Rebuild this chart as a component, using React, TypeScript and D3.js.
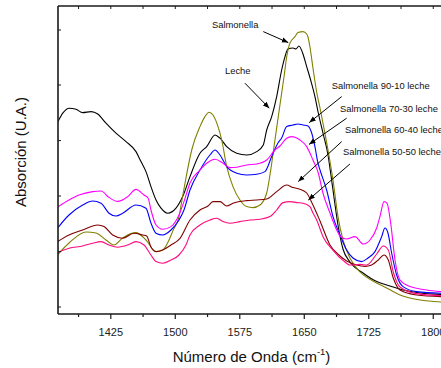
import React, { useEffect, useRef } from 'react';
import * as d3 from 'd3';

type Pt = [number, number];

// [wavenumber cm-1, absorbance a.u.]
const leche: Pt[] = [
  [1363.6, 0.962], [1369.1, 1.004], [1376.7, 1.029], [1384.5, 1.024], [1392.3, 1.007], [1402.0, 1.012],
  [1409.8, 1.0], [1419.4, 0.954], [1431.0, 0.904], [1442.7, 0.862], [1454.3, 0.812], [1460.1, 0.762],
  [1465.9, 0.712], [1471.7, 0.637], [1477.6, 0.57], [1483.4, 0.529], [1491.2, 0.504], [1500.8, 0.529],
  [1508.6, 0.587], [1517.1, 0.687], [1528.7, 0.804], [1536.5, 0.837], [1546.2, 0.895], [1552.0, 0.879],
  [1559.8, 0.837], [1571.4, 0.804], [1583.0, 0.795], [1594.7, 0.812], [1602.3, 0.845], [1606.3, 0.92],
  [1612.1, 0.987], [1617.9, 1.087], [1623.7, 1.22], [1627.6, 1.287], [1631.0, 1.325], [1636.9, 1.33],
  [1640.3, 1.325], [1643.8, 1.34], [1648.1, 1.305], [1652.8, 1.237], [1657.4, 1.17], [1662.4, 1.087],
  [1666.3, 1.005], [1671.7, 0.905], [1677.6, 0.795], [1681.0, 0.695], [1684.5, 0.585], [1689.2, 0.445],
  [1695.0, 0.325], [1703.1, 0.26], [1718.3, 0.205], [1734.2, 0.162], [1749.7, 0.14], [1764.8, 0.12],
  [1784.5, 0.105], [1809.0, 0.098],
];

const salmonella: Pt[] = [
  [1361.3, 0.287], [1376.4, 0.355], [1396.2, 0.41], [1407.8, 0.405], [1419.4, 0.37], [1428.7, 0.345],
  [1438.8, 0.38], [1454.3, 0.407], [1465.9, 0.37], [1477.6, 0.312], [1485.3, 0.32], [1492.7, 0.37],
  [1497.3, 0.417], [1504.3, 0.487], [1507.8, 0.57], [1512.4, 0.68], [1519.1, 0.82], [1528.7, 0.937],
  [1534.5, 0.987], [1539.2, 1.009], [1543.8, 0.995], [1549.7, 0.937], [1554.0, 0.87], [1559.8, 0.737],
  [1567.1, 0.637], [1575.2, 0.57], [1583.0, 0.537], [1590.3, 0.532], [1598.5, 0.545], [1606.3, 0.605],
  [1610.1, 0.695], [1615.9, 0.87], [1621.7, 1.045], [1626.4, 1.185], [1629.9, 1.295], [1633.4, 1.355],
  [1639.2, 1.387], [1642.7, 1.407], [1648.5, 1.412], [1652.8, 1.4], [1654.3, 1.385], [1656.6, 1.335],
  [1660.1, 1.23], [1664.4, 1.11], [1668.3, 1.03], [1671.7, 0.955], [1677.6, 0.82], [1683.4, 0.67],
  [1689.2, 0.487], [1695.0, 0.37], [1703.1, 0.28], [1714.8, 0.21], [1729.9, 0.165], [1745.8, 0.13],
  [1761.3, 0.095], [1784.5, 0.07], [1809.0, 0.06],
];

const mix90: Pt[] = [
  [1361.3, 0.42], [1376.4, 0.495], [1392.3, 0.545], [1404.0, 0.565], [1413.6, 0.554], [1422.9, 0.504],
  [1431.0, 0.49], [1438.8, 0.504], [1454.3, 0.545], [1465.9, 0.529], [1471.7, 0.455], [1477.6, 0.404],
  [1485.3, 0.395], [1495.0, 0.42], [1504.3, 0.47], [1510.1, 0.52], [1517.1, 0.62], [1528.7, 0.72],
  [1540.3, 0.795], [1546.2, 0.82], [1552.0, 0.795], [1559.8, 0.737], [1571.4, 0.704], [1583.0, 0.695],
  [1594.7, 0.699], [1604.3, 0.712], [1612.1, 0.787], [1619.4, 0.855], [1623.7, 0.88], [1629.5, 0.937],
  [1636.9, 0.945], [1642.7, 0.95], [1648.5, 0.945], [1654.3, 0.94], [1658.6, 0.905], [1662.4, 0.837],
  [1665.9, 0.755], [1668.3, 0.72], [1676.0, 0.62], [1683.4, 0.487], [1691.5, 0.395], [1699.3, 0.32],
  [1706.6, 0.28], [1716.7, 0.262], [1724.1, 0.28], [1732.2, 0.312], [1740.0, 0.387], [1743.8, 0.43],
  [1747.3, 0.405], [1751.6, 0.305], [1757.4, 0.195], [1764.8, 0.137], [1780.7, 0.112], [1809.0, 0.104],
];

const mix70: Pt[] = [
  [1361.3, 0.529], [1376.4, 0.57], [1388.0, 0.595], [1404.0, 0.612], [1413.6, 0.615], [1422.9, 0.583],
  [1433.0, 0.563], [1444.7, 0.587], [1454.3, 0.623], [1463.6, 0.595], [1468.3, 0.58], [1471.7, 0.52],
  [1477.6, 0.445], [1485.3, 0.424], [1495.0, 0.437], [1504.3, 0.495], [1510.1, 0.562], [1517.1, 0.655],
  [1528.7, 0.72], [1536.5, 0.754], [1546.2, 0.774], [1555.5, 0.754], [1563.6, 0.732], [1571.4, 0.734],
  [1583.0, 0.745], [1594.7, 0.75], [1606.3, 0.77], [1615.9, 0.82], [1621.7, 0.84], [1629.5, 0.879],
  [1635.3, 0.887], [1645.0, 0.87], [1652.8, 0.837], [1660.1, 0.77], [1666.3, 0.705], [1671.7, 0.605],
  [1679.9, 0.505], [1687.7, 0.42], [1691.5, 0.39], [1699.3, 0.375], [1709.0, 0.387], [1718.6, 0.35],
  [1726.4, 0.37], [1734.2, 0.43], [1738.0, 0.487], [1742.7, 0.562], [1746.2, 0.554], [1750.5, 0.454],
  [1755.5, 0.27], [1761.3, 0.17], [1772.9, 0.137], [1792.3, 0.12], [1809.0, 0.112],
];

const mix60: Pt[] = [
  [1361.3, 0.357], [1376.4, 0.395], [1392.3, 0.42], [1409.8, 0.445], [1417.1, 0.437], [1427.2, 0.395],
  [1438.8, 0.379], [1452.0, 0.404], [1462.1, 0.395], [1466.7, 0.39], [1471.7, 0.335], [1477.6, 0.312],
  [1485.3, 0.32], [1495.0, 0.345], [1505.5, 0.378], [1517.1, 0.47], [1528.7, 0.52], [1538.0, 0.54],
  [1543.8, 0.562], [1552.0, 0.562], [1559.8, 0.54], [1567.1, 0.554], [1583.0, 0.567], [1594.7, 0.57],
  [1606.3, 0.575], [1617.9, 0.612], [1629.5, 0.645], [1636.9, 0.632], [1645.0, 0.624], [1652.8, 0.605],
  [1660.1, 0.545], [1668.3, 0.465], [1679.9, 0.345], [1691.5, 0.29], [1699.3, 0.265], [1710.9, 0.245],
  [1720.6, 0.238], [1728.4, 0.245], [1736.0, 0.27], [1742.7, 0.295], [1747.7, 0.27], [1753.5, 0.18],
  [1761.3, 0.12], [1780.7, 0.095], [1809.0, 0.087],
];

const mix50: Pt[] = [
  [1361.3, 0.304], [1376.4, 0.329], [1392.3, 0.34], [1404.0, 0.354], [1413.6, 0.362], [1422.9, 0.345],
  [1433.0, 0.334], [1444.7, 0.345], [1454.3, 0.362], [1463.6, 0.345], [1471.7, 0.295], [1477.6, 0.262],
  [1485.3, 0.254], [1495.0, 0.27], [1504.3, 0.295], [1512.4, 0.345], [1517.1, 0.395], [1528.7, 0.445],
  [1540.3, 0.47], [1548.1, 0.479], [1555.5, 0.462], [1563.6, 0.454], [1575.2, 0.462], [1586.9, 0.47],
  [1598.5, 0.474], [1610.1, 0.487], [1617.9, 0.52], [1625.2, 0.557], [1633.4, 0.562], [1641.2, 0.557],
  [1648.5, 0.554], [1656.6, 0.537], [1660.1, 0.505], [1664.4, 0.47], [1672.1, 0.384], [1683.7, 0.317],
  [1695.3, 0.267], [1703.1, 0.245], [1714.8, 0.248], [1722.6, 0.245], [1734.2, 0.3], [1741.9, 0.34],
  [1747.7, 0.32], [1753.5, 0.21], [1761.3, 0.135], [1780.7, 0.102], [1809.0, 0.092],
];

const X_MAJOR = [1425, 1500, 1575, 1650, 1725, 1800];
const X_MINOR = [1387.5, 1462.5, 1537.5, 1612.5, 1687.5, 1762.5];
const Y_TICKS = [0.035, 0.312, 0.59, 0.867, 1.145, 1.42];

const SERIES_DATA = [leche, salmonella, mix90, mix70, mix60, mix50];
const SERIES_COLORS = ['#000000', '#808000', '#0000ff', '#ff00ff', '#800000', '#ff0a7f'];

// annotations: text baseline start, arrow tail, arrow head (data coords)
const LABEL_TEXT = [
  'Salmonella', 'Leche', 'Salmonella 90-10 leche', 'Salmonella 70-30 leche',
  'Salmonella 60-40 leche', 'Salmonella 50-50 leche',
];
const LABEL_AT: Pt[] = [
  [1542.7, 1.428], [1557.8, 1.198], [1681.9, 1.125], [1691.5, 1.008], [1697.3, 0.903], [1695.0, 0.793],
];
const ARROW_FROM: Pt[] = [
  [1602.3, 1.412], [1581.0, 1.154], [1693.5, 1.087], [1699.3, 0.979], [1693.5, 0.862], [1703.1, 0.75],
];
const ARROW_TO: Pt[] = [
  [1631.4, 1.357], [1609.3, 1.029], [1655.8, 0.957], [1655.5, 0.848], [1643.0, 0.662], [1654.7, 0.57],
];

const W = 441;
const H = 368;
const M = { left: 58, top: 6, right: 0, bottom: 54 };
const FONT = '"Liberation Sans", Arial, sans-serif';

export default function App() {
  const ref = useRef<SVGSVGElement>(null);

  useEffect(() => {
    if (!ref.current) return;
    const svg = d3.select(ref.current);
    svg.selectAll('*').remove();

    const x = d3.scaleLinear().domain([1363.6, 1809]).range([M.left, W - M.right]);
    const y = d3.scaleLinear().domain([0, 1.54]).range([H - M.bottom, M.top]);
    const bottom = H - M.bottom;

    const defs = svg.append('defs');
    defs.append('clipPath').attr('id', 'plot-clip')
      .append('rect')
      .attr('x', M.left).attr('y', M.top)
      .attr('width', W - M.left - M.right).attr('height', bottom - M.top);
    defs.append('marker')
      .attr('id', 'arrow-head')
      .attr('viewBox', '0 0 10 10')
      .attr('refX', 10).attr('refY', 5)
      .attr('markerWidth', 6.5).attr('markerHeight', 6.5)
      .attr('markerUnits', 'userSpaceOnUse')
      .attr('orient', 'auto')
      .append('path').attr('d', 'M0,1L10,5L0,9Z').attr('fill', '#000');

    // spectra
    const line = d3.line<Pt>().x((d) => x(d[0])).y((d) => y(d[1])).curve(d3.curveMonotoneX);
    svg.append('g').attr('clip-path', 'url(#plot-clip)')
      .selectAll('path')
      .data(SERIES_DATA)
      .join('path')
      .attr('d', (d) => line(d))
      .attr('fill', 'none')
      .attr('stroke', (_, i) => SERIES_COLORS[i])
      .attr('stroke-width', 1.1)
      .attr('stroke-linejoin', 'round');

    // frame
    const axis = svg.append('g').attr('stroke', '#1a1a1a').attr('fill', 'none');
    axis.append('line').attr('x1', M.left).attr('x2', W).attr('y1', bottom).attr('y2', bottom).attr('stroke-width', 1.6);
    axis.append('line').attr('x1', M.left).attr('x2', W).attr('y1', M.top).attr('y2', M.top).attr('stroke-width', 1.6);
    axis.append('line').attr('x1', M.left).attr('x2', M.left).attr('y1', M.top).attr('y2', bottom).attr('stroke-width', 1.6);

    // x ticks (outside bottom, inside top)
    axis.selectAll('.xmaj').data(X_MAJOR).join('line')
      .attr('x1', (d) => x(d)).attr('x2', (d) => x(d))
      .attr('y1', bottom).attr('y2', bottom + 5).attr('stroke-width', 1.2);
    axis.selectAll('.xmin').data(X_MINOR).join('line')
      .attr('x1', (d) => x(d)).attr('x2', (d) => x(d))
      .attr('y1', bottom).attr('y2', bottom + 3).attr('stroke-width', 1.2);
    axis.selectAll('.xtop').data([...X_MAJOR, ...X_MINOR]).join('line')
      .attr('x1', (d) => x(d)).attr('x2', (d) => x(d))
      .attr('y1', M.top).attr('y2', M.top + 3).attr('stroke-width', 1);
    axis.selectAll('.yt').data(Y_TICKS).join('line')
      .attr('x1', M.left).attr('x2', M.left + 3)
      .attr('y1', (d) => y(d)).attr('y2', (d) => y(d)).attr('stroke-width', 1);

    svg.append('g')
      .selectAll('text')
      .data(X_MAJOR)
      .join('text')
      .attr('x', (d) => x(d))
      .attr('y', bottom + 21.5)
      .attr('text-anchor', 'middle')
      .attr('font-family', FONT)
      .attr('font-size', 11)
      .attr('fill', '#222')
      .text((d) => d);

    // axis titles
    const xt = svg.append('text')
      .attr('x', 251.5).attr('y', 362)
      .attr('text-anchor', 'middle')
      .attr('font-family', FONT).attr('font-size', 15).attr('fill', '#111');
    xt.append('tspan').text('Número de Onda (cm');
    xt.append('tspan').attr('font-size', 9.5).attr('dy', -7).text('-1');
    xt.append('tspan').attr('dy', 7).text(')');

    svg.append('text')
      .attr('transform', `translate(26,${(M.top + bottom) / 2 - 8}) rotate(-90)`)
      .attr('text-anchor', 'middle')
      .attr('font-family', FONT).attr('font-size', 15).attr('fill', '#111')
      .text('Absorción (U.A.)');

    // annotations
    const ann = svg.append('g');
    ann.selectAll('line')
      .data(ARROW_FROM)
      .join('line')
      .attr('x1', (d) => x(d[0])).attr('y1', (d) => y(d[1]))
      .attr('x2', (_, i) => x(ARROW_TO[i][0])).attr('y2', (_, i) => y(ARROW_TO[i][1]))
      .attr('stroke', '#000').attr('stroke-width', 1)
      .attr('marker-end', 'url(#arrow-head)');
    ann.selectAll('text')
      .data(LABEL_TEXT)
      .join('text')
      .attr('x', (_, i) => x(LABEL_AT[i][0]))
      .attr('y', (_, i) => y(LABEL_AT[i][1]))
      .attr('font-family', FONT)
      .attr('font-size', 9.4)
      .attr('fill', '#111')
      .text((d) => d);
  }, []);

  return (
    <svg
      ref={ref}
      width={W}
      height={H}
      style={{ position: 'fixed', left: 0, top: 0, background: '#fff' }}
    />
  );
}
